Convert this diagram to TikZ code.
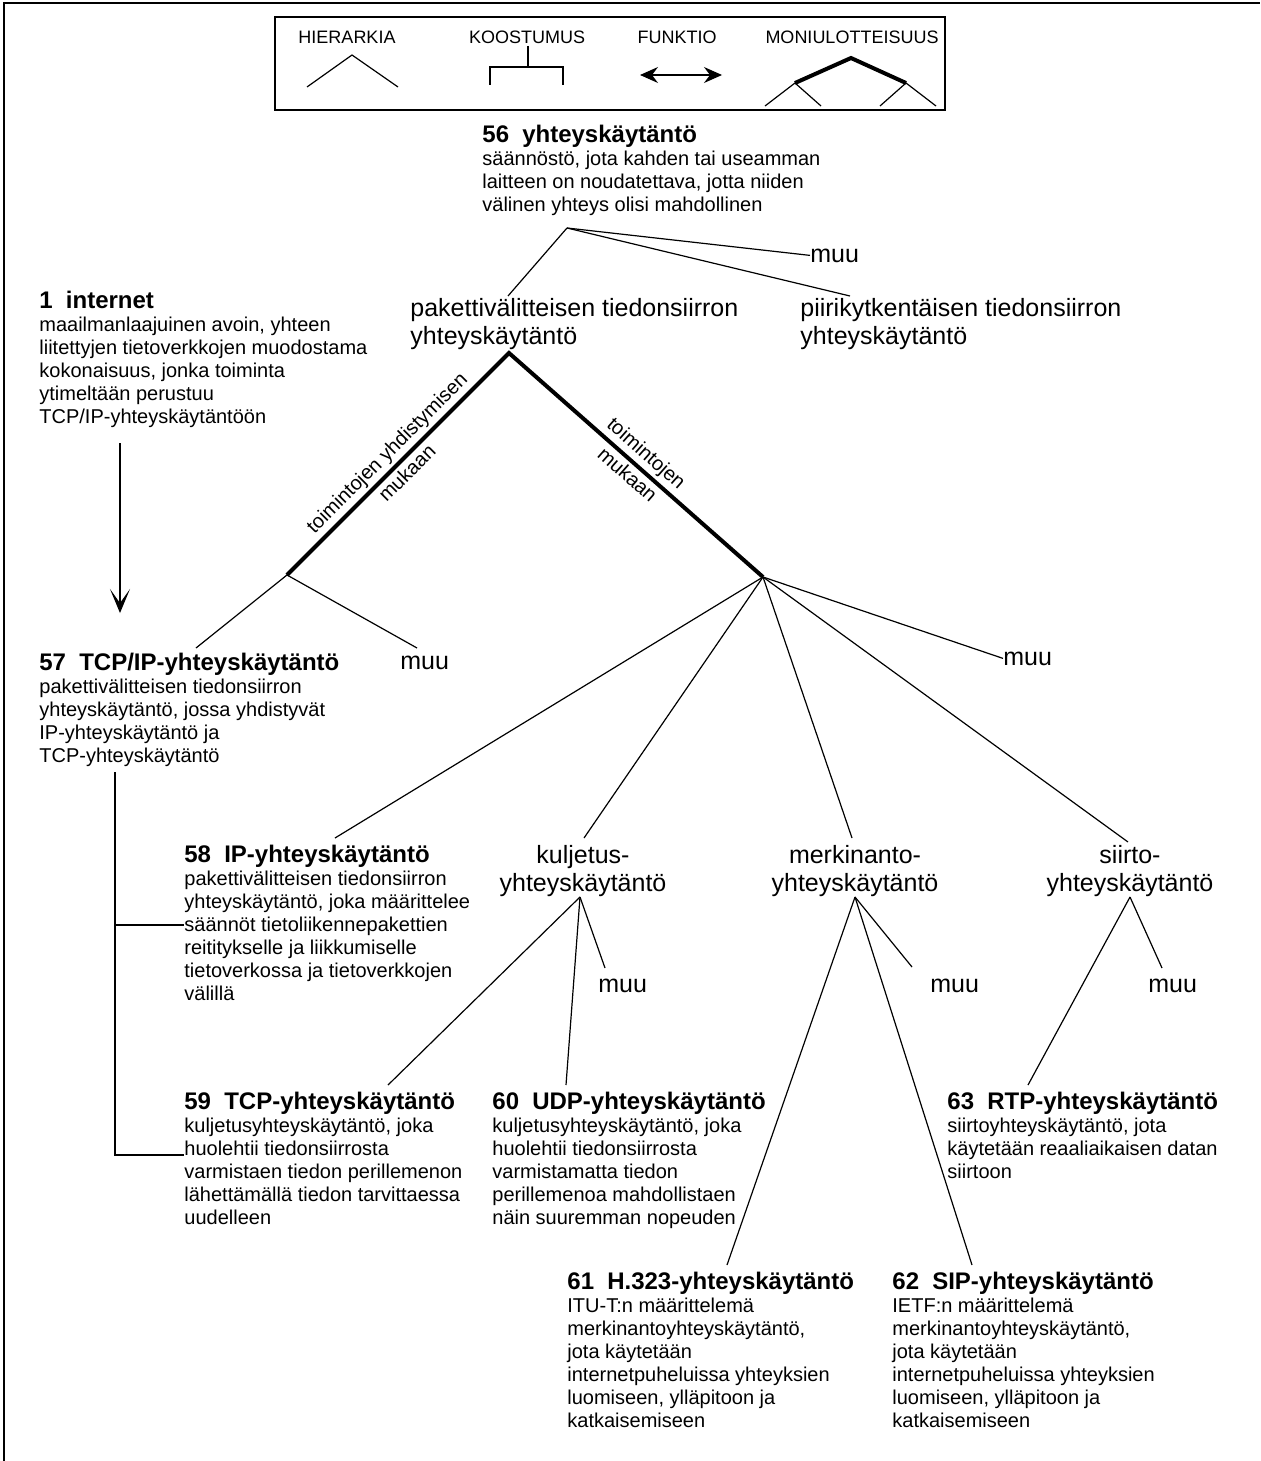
\documentclass[tikz,border=0pt]{standalone}
\usepackage{fontspec}
\setmainfont{Liberation Sans}
\usetikzlibrary{arrows.meta,calc}
\tikzset{termi/.style={anchor=base west,inner sep=0pt,align=left,font=\fontsize{10}{11.5}\selectfont},
         nimi/.style={inner sep=0pt,font=\fontsize{12.5}{14}\selectfont},
         selite/.style={inner sep=0pt,font=\fontsize{9}{10}\selectfont},
         kylki/.style={inner sep=1.5pt,font=\fontsize{10}{11}\selectfont},
         kaari/.style={line width=0.6pt},
         paksu/.style={line width=2pt},
         kehys/.style={line width=0.8pt},
         nuoli/.style={line width=0.6pt,-{Stealth[length=12pt,width=10pt,inset=7pt]}},
         funktio/.style={line width=0.6pt,{Stealth[length=9pt,width=8pt,inset=3pt]}-{Stealth[length=9pt,width=8pt,inset=3pt]}}}
\newcommand{\otsikko}[2]{{\fontsize{12}{13}\selectfont\bfseries #1\hspace{0.55em}#2}}

\begin{document}
\begin{tikzpicture}[x=0.5pt,y=-0.5pt]
  \useasboundingbox (0,0) rectangle (1260,1461);
  \draw[kehys] (4,1461) -- (4,3) -- (1260,3);

  % selitys
  \draw[line width=0.7pt] (275,17) rectangle (945,110);
  \node[selite] (hier) at (347,37) {HIERARKIA};
  \node[selite] (koos) at (527,37) {KOOSTUMUS};
  \node[selite] (funk) at (677,37) {FUNKTIO};
  \node[selite] (moni) at (852,37) {MONIULOTTEISUUS};
  \draw[kaari] (307,87) -- (352,55) -- (398,87);
  \draw[kaari] (528,46) -- (528,67) (490,85) -- (490,67) -- (563,67) -- (563,85);
  \draw[funktio] (640,75) -- (722,75);
  \draw[paksu] (795,83) -- (851,58) -- (906,83);
  \draw[kaari] (765,106) -- (795,83) -- (821,106) (880,106) -- (906,83) -- (936,106);

  % termit (sijainti = viimeisen rivin perusviiva)
  \node[termi] (t56) at (482,211) {\otsikko{56}{yhteyskäytäntö}\\säännöstö, jota kahden tai useamman\\laitteen on noudatettava, jotta niiden\\välinen yhteys olisi mahdollinen};
  \node[termi] (t1) at (39,423) {\otsikko{1}{internet}\\maailmanlaajuinen avoin, yhteen\\liitettyjen tietoverkkojen muodostama\\kokonaisuus, jonka toiminta\\ytimeltään perustuu\\TCP/IP-yhteyskäytäntöön};
  \node[termi] (t57) at (39,762) {\otsikko{57}{TCP/IP-yhteyskäytäntö}\\pakettivälitteisen tiedonsiirron\\yhteyskäytäntö, jossa yhdistyvät\\IP-yhteyskäytäntö ja\\TCP-yhteyskäytäntö};
  \node[termi] (t58) at (184,1000) {\otsikko{58}{IP-yhteyskäytäntö}\\pakettivälitteisen tiedonsiirron\\yhteyskäytäntö, joka määrittelee\\säännöt tietoliikennepakettien\\reititykselle ja liikkumiselle\\tietoverkossa ja tietoverkkojen\\välillä};
  \node[termi] (t59) at (184,1224) {\otsikko{59}{TCP-yhteyskäytäntö}\\kuljetusyhteyskäytäntö, joka\\huolehtii tiedonsiirrosta\\varmistaen tiedon perillemenon\\lähettämällä tiedon tarvittaessa\\uudelleen};
  \node[termi] (t60) at (492,1224) {\otsikko{60}{UDP-yhteyskäytäntö}\\kuljetusyhteyskäytäntö, joka\\huolehtii tiedonsiirrosta\\varmistamatta tiedon\\perillemenoa mahdollistaen\\näin suuremman nopeuden};
  \node[termi] (t63) at (947,1178) {\otsikko{63}{RTP-yhteyskäytäntö}\\siirtoyhteyskäytäntö, jota\\käytetään reaaliaikaisen datan\\siirtoon};
  \node[termi] (t61) at (567,1427) {\otsikko{61}{H.323-yhteyskäytäntö}\\ITU-T:n määrittelemä\\merkinantoyhteyskäytäntö,\\jota käytetään\\internetpuheluissa yhteyksien\\luomiseen, ylläpitoon ja\\katkaisemiseen};
  \node[termi] (t62) at (892,1427) {\otsikko{62}{SIP-yhteyskäytäntö}\\IETF:n määrittelemä\\merkinantoyhteyskäytäntö,\\jota käytetään\\internetpuheluissa yhteyksien\\luomiseen, ylläpitoon ja\\katkaisemiseen};

  % kategoriat
  \node[nimi,anchor=base west,align=left] (paketti) at (410,344) {pakettivälitteisen tiedonsiirron\\yhteyskäytäntö};
  \node[nimi,anchor=base west,align=left] (piiri) at (800,344) {piirikytkentäisen tiedonsiirron\\yhteyskäytäntö};
  \node[nimi,anchor=base,align=center] (kulj) at (583,891) {kuljetus-\\yhteyskäytäntö};
  \node[nimi,anchor=base,align=center] (merk) at (855,891) {merkinanto-\\yhteyskäytäntö};
  \node[nimi,anchor=base,align=center] (siirto) at (1130,891) {siirto-\\yhteyskäytäntö};
  \node[nimi,anchor=base west] (muu1) at (810,262) {muu};
  \node[nimi,anchor=base west] (muu2) at (400,669) {muu};
  \node[nimi,anchor=base west] (muu3) at (1003,665) {muu};
  \node[nimi,anchor=base west] (muu4) at (598,992) {muu};
  \node[nimi,anchor=base west] (muu5) at (930,992) {muu};
  \node[nimi,anchor=base west] (muu6) at (1148,992) {muu};

  % haarautumiskohdat
  \coordinate (h56) at (567,228);
  \coordinate (pk) at (509,353);
  \coordinate (vasen) at (287,575);
  \coordinate (oikea) at (763,577);
  \coordinate (hk) at (580,897);
  \coordinate (hm) at (855,897);
  \coordinate (hs) at (1130,897);
  \coordinate (k57) at (115,772);

  \draw[kaari] (h56) -- ($(paketti.base west)+(98,-48)$);
  \draw[kaari] (h56) -- (muu1.west);
  \draw[kaari] (h56) -- ($(piiri.base west)+(50,-48)$);

  \draw[paksu] (vasen) -- node[kylki,sloped,above] (lk1) {toimintojen yhdistymisen}
                          node[kylki,sloped,below] (lk2) {mukaan} (pk)
                       -- node[kylki,sloped,above] (lk3) {toimintojen}
                          node[kylki,sloped,below] (lk4) {mukaan} (oikea);

  \draw[kaari] (vasen) -- ($(t57.base west)+(157,-114)$);
  \draw[kaari] (vasen) -- ($(muu2.base west)+(17,-21)$);

  \draw[kaari] (oikea) -- ($(t58.base west)+(151,-162)$);
  \draw[kaari] (oikea) -- ($(kulj.base)+(1,-53)$);
  \draw[kaari] (oikea) -- ($(merk.base)+(-3,-53)$);
  \draw[kaari] (oikea) -- ($(siirto.base)+(-2,-49)$);
  \draw[kaari] (oikea) -- (muu3.west);

  \draw[kaari] (hk) -- ($(t59.base west)+(204,-139)$);
  \draw[kaari] (hk) -- ($(t60.base west)+(74,-139)$);
  \draw[kaari] (hk) -- ($(muu4.base west)+(7,-24)$);

  \draw[kaari] (hm) -- ($(t61.base west)+(160,-162)$);
  \draw[kaari] (hm) -- ($(t62.base west)+(80,-162)$);
  \draw[kaari] (hm) -- ($(muu5.base west)+(-18,-25)$);

  \draw[kaari] (hs) -- ($(t63.base west)+(81,-93)$);
  \draw[kaari] (hs) -- ($(muu6.base west)+(14,-24)$);

  % funktio ja koostumus
  \draw[nuoli] ($(t1.base west)+(81,20)$) -- ($(t57.base west)+(81,-149)$);
  \draw[kaari] (k57) |- ($(t58.base west)+(0,-75)$);
  \draw[kaari] (k57) |- ($(t59.base west)+(0,-69)$);
\end{tikzpicture}
\end{document}
